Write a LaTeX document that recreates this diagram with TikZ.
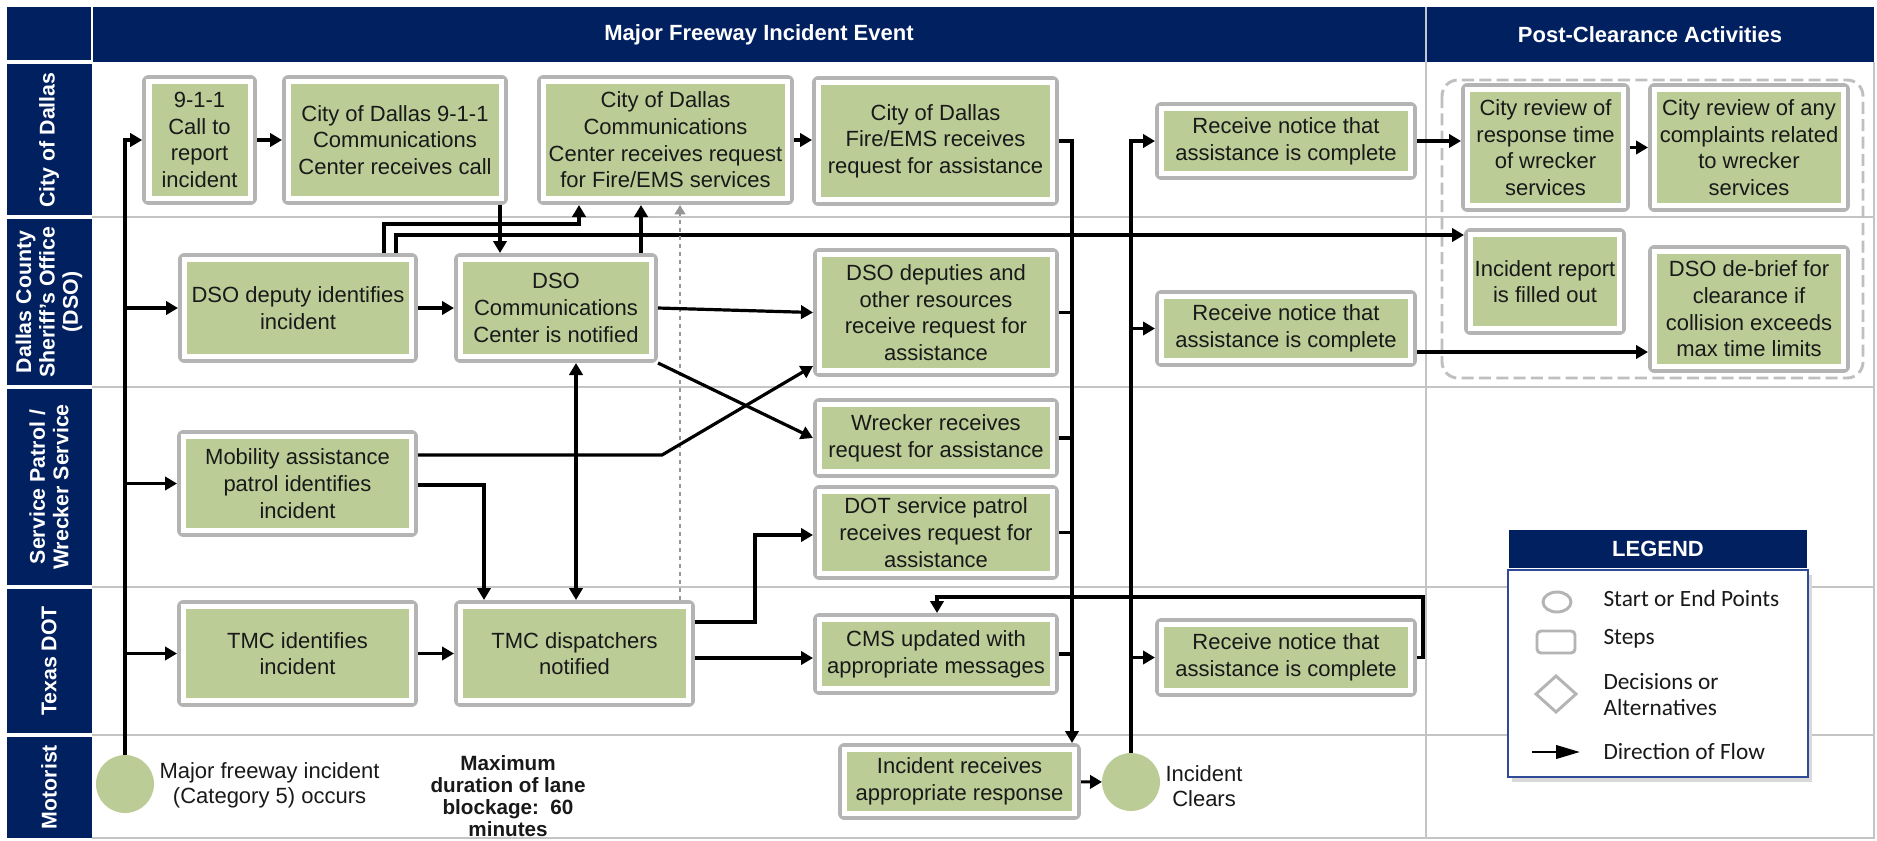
\documentclass[tikz,border=0pt]{standalone}
\usepackage{fontspec}
\setmainfont{Liberation Sans}
\newfontfamily\legendfont{Carlito}
\usetikzlibrary{arrows.meta}

\definecolor{navyband}{RGB}{0,32,96}
\definecolor{stepgreen}{RGB}{188,204,151}
\definecolor{boxgray}{RGB}{180,180,180}
\definecolor{lanegray}{RGB}{196,196,196}
\definecolor{dotgray}{RGB}{150,150,150}
\definecolor{legendblue}{RGB}{47,74,150}
\definecolor{textblack}{RGB}{25,25,25}

\tikzset{every picture/.style={line width=0.75pt}}
\tikzset{
  stepbox/.style={draw=white, line width=4pt, fill=stepgreen,
    preaction={draw=boxgray, line width=10pt, line join=round},
    outer sep=5pt, inner sep=0pt, align=center, text=textblack,
    font=\fontsize{16.5}{20}\selectfont},
  termnode/.style={circle, fill=stepgreen, minimum size=43.5pt, inner sep=0pt, outer sep=0pt},
  flowline/.style={draw=black, line width=2.4pt, -{Triangle[length=9pt,width=10pt]}},
  biflowline/.style={draw=black, line width=2.4pt, {Triangle[length=9pt,width=10pt]}-{Triangle[length=9pt,width=10pt]}},
  dotflowline/.style={draw=dotgray, line width=1.5pt, dash pattern=on 3pt off 3pt, -{Triangle[length=7pt,width=8pt]}},
  stubline/.style={draw=black, line width=2.4pt},
  lanelabel/.style={rotate=90, text=white, align=center, inner sep=0pt, font=\fontsize{16}{17.5}\selectfont\bfseries},
  headtext/.style={text=white, inner sep=0pt, font=\fontsize{16.5}{20}\selectfont\bfseries},
  plaintext/.style={text=textblack, align=center, inner sep=0pt, font=\fontsize{16.5}{18.5}\selectfont},
  legendtext/.style={anchor=west, text=textblack, align=left, inner sep=0pt, font=\legendfont\fontsize{17.5}{19.5}\selectfont},
  legendicon/.style={draw=boxgray, line width=2.2pt},
  groupline/.style={draw=boxgray!85, line width=2.2pt, dash pattern=on 9pt off 4pt, rounded corners=12pt},
}

\begin{document}
\begin{tikzpicture}[x=0.75pt,y=0.75pt,yscale=-1,xscale=1]
\useasboundingbox (0,0) rectangle (1877,840);

%Shape: Header band and lane column
\fill[navyband] (7,7) rectangle (1874,62);
\fill[navyband] (7,62) rectangle (92,838);
\draw[white, line width=2pt] (92,7) -- (92,62);
\draw[white!75!navyband, line width=1pt] (1426,7) -- (1426,62);
%Straight Lines: lane separators
\draw[white, line width=2.5pt] (7,62) -- (92,62);
\draw[white, line width=2.5pt] (7,217) -- (92,217);
\draw[white, line width=2.5pt] (7,387) -- (92,387);
\draw[white, line width=2.5pt] (7,587) -- (92,587);
\draw[white, line width=2.5pt] (7,735) -- (92,735);
\draw[lanegray, line width=2pt] (92,217) -- (1874,217);
\draw[lanegray, line width=2pt] (92,387) -- (1874,387);
\draw[lanegray, line width=2pt] (92,587) -- (1874,587);
\draw[lanegray, line width=2pt] (92,735) -- (1874,735);
\draw[lanegray, line width=1.2pt] (1426,62) -- (1426,838);
\draw[lanegray, line width=1.5pt] (1874,62) -- (1874,838) -- (92,838);

%Shape: Post-clearance group
\draw[groupline] (1442,80) rectangle (1863,378);

% Text Node: headers
\node[headtext] (hmain) at (759,35) {Major Freeway Incident Event};
\node[headtext] (hpost) at (1650,35) {Post-Clearance Activities};

% Text Node: lanes
\node[lanelabel] (lcity) at (49,140) {City of Dallas};
\node[lanelabel] (ldso) at (49,302) {Dallas County\\Sheriff's Office\\(DSO)};
\node[lanelabel] (lserv) at (49,487) {Service Patrol /\\Wrecker Service};
\node[lanelabel] (ltexas) at (49,661) {Texas DOT};
\node[lanelabel] (lmotor) at (49,787) {Motorist};

% Text Node: City of Dallas
\node[stepbox, minimum width=76pt, minimum height=87.5pt] (call911) at (199.5,140) {9-1-1\\Call to\\report\\incident};
\node[stepbox, minimum width=159.5pt, minimum height=87.5pt] (cdcall) at (395,140) {City of Dallas 9-1-1\\Communications\\Center receives call};
\node[stepbox, minimum width=182.75pt, minimum height=87.5pt] (cdreq) at (665.5,140) {City of Dallas\\Communications\\Center receives request\\for Fire/EMS services};
\node[stepbox, minimum width=175.25pt, minimum height=87.5pt] (fireems) at (935.5,141) {City of Dallas\\Fire/EMS receives\\request for assistance};
\node[stepbox, minimum width=186.5pt, minimum height=48.5pt] (cdnotice) at (1286,141) {Receive notice that\\assistance is complete};
\node[stepbox, minimum width=116.75pt, minimum height=86.75pt] (cityrev1) at (1545.5,147.5) {City review of\\response time\\of wrecker\\services};
\node[stepbox, minimum width=141.5pt, minimum height=86.75pt] (cityrev2) at (1749,147.5) {City review of any\\complaints related\\to wrecker\\services};

% Text Node: DSO
\node[stepbox, minimum width=170pt, minimum height=72.5pt] (dsodep) at (298,308) {DSO deputy identifies\\incident};
\node[stepbox, minimum width=143pt, minimum height=72.5pt] (dsocomm) at (556,308) {DSO\\Communications\\Center is notified};
\node[stepbox, minimum width=174.5pt, minimum height=86.75pt] (dsoreq) at (936,312.5) {DSO deputies and\\other resources\\receive request for\\assistance};
\node[stepbox, minimum width=186.5pt, minimum height=47.75pt] (dsonotice) at (1286,328.5) {Receive notice that\\assistance is complete};
\node[stepbox, minimum width=111.5pt, minimum height=70.25pt] (increp) at (1545,281.5) {Incident report\\is filled out};
\node[stepbox, minimum width=141.5pt, minimum height=86pt] (debrief) at (1749,309) {DSO de-brief for\\clearance if\\collision exceeds\\max time limits};

% Text Node: Service Patrol / Wrecker
\node[stepbox, minimum width=170.75pt, minimum height=70.25pt] (mobility) at (297.5,483.5) {Mobility assistance\\patrol identifies\\incident};
\node[stepbox, minimum width=174.5pt, minimum height=50pt] (wrecker) at (936,438) {Wrecker receives\\request for assistance};
\node[stepbox, minimum width=174.5pt, minimum height=61.25pt] (dotpatrol) at (936,532.5) {DOT service patrol\\receives request for\\assistance};

% Text Node: Texas DOT
\node[stepbox, minimum width=170.75pt, minimum height=70.25pt] (tmcid) at (297.5,653.5) {TMC identifies\\incident};
\node[stepbox, minimum width=170.75pt, minimum height=70.25pt] (tmcdisp) at (574.5,653.5) {TMC dispatchers\\notified};
\node[stepbox, minimum width=174.5pt, minimum height=51.5pt] (cms) at (936,654) {CMS updated with\\appropriate messages};
\node[stepbox, minimum width=186.5pt, minimum height=49.25pt] (dotnotice) at (1286,657.5) {Receive notice that\\assistance is complete};

% Text Node: Motorist
\node[termnode] (start) at (125,784) {};
\node[plaintext, anchor=west] (starttxt) at (159,785) {Major freeway incident\\(Category 5) occurs};
\node[plaintext, font=\fontsize{15.5}{16.3}\selectfont\bfseries] (maxdur) at (508,796) {Maximum\\duration of lane\\blockage:\ \ 60\\minutes};
\node[stepbox, minimum width=172.25pt, minimum height=47.75pt] (increspond) at (959.5,781.5) {Incident receives\\appropriate response};
\node[termnode] (endc) at (1131,782) {};
\node[plaintext, anchor=west] (endtxt) at (1165,786) {Incident\\Clears};

%Straight Lines: from the incident
\draw[flowline] (start.north) |- (call911.west);
\draw[flowline] (start.north |- dsodep.west) -- (dsodep.west);
\draw[flowline] (start.north |- mobility.west) -- (mobility.west);
\draw[flowline] (start.north |- tmcid.west) -- (tmcid.west);

%Straight Lines: City of Dallas
\draw[flowline] (call911) -- (cdcall);
\draw[flowline] (cdreq.east) -- (cdreq.east -| fireems.west);
\draw[flowline] (cdcall.south -| 500,0) -- (dsocomm.north -| 500,0);

%Straight Lines: DSO
\draw[flowline] (dsodep) -- (dsocomm);
\draw[flowline] (dsodep.north -| 384,0) |- (579,224) -- (cdreq.south -| 579,0);
\draw[flowline] (dsodep.north -| 396,0) |- (increp.west |- 0,235);
\draw[flowline] (dsocomm.north -| 641,0) -- (cdreq.south -| 641,0);
\draw[dotflowline] (tmcdisp.north -| 680,0) -- (cdreq.south -| 680,0);
\draw[flowline] (dsocomm.east) -- (dsoreq.west);
\draw[flowline] (dsocomm.south east) -- (wrecker.west);
\draw[biflowline] (dsocomm.south -| 576,0) -- (tmcdisp.north -| 576,0);

%Straight Lines: Service Patrol
\draw[flowline] (mobility.east |- 0,455) -- (662,455) -- (dsoreq.west |- 0,366);
\draw[flowline] (mobility.east |- 0,485) -| (tmcdisp.north -| 484,0);

%Straight Lines: Texas DOT
\draw[flowline] (tmcid) -- (tmcdisp);
\draw[flowline] (tmcdisp.east |- 0,622) -| (755,535) -- (dotpatrol.west |- 0,535);
\draw[flowline] (tmcdisp.east |- 0,658) -- (cms.west |- 0,658);

%Straight Lines: responses gather
\draw[flowline] (fireems.east) -| (increspond.north -| 1072,0);
\draw[stubline] (dsoreq.east) -- (dsoreq.east -| 1072,0);
\draw[stubline] (wrecker.east) -- (wrecker.east -| 1072,0);
\draw[stubline] (dotpatrol.east) -- (dotpatrol.east -| 1072,0);
\draw[stubline] (cms.east) -- (cms.east -| 1072,0);
\draw[flowline] (increspond) -- (endc);

%Straight Lines: after clearance
\draw[flowline] (endc.north) |- (cdnotice.west);
\draw[flowline] (endc.north |- dsonotice.west) -- (dsonotice.west);
\draw[flowline] (endc.north |- dotnotice.west) -- (dotnotice.west);
\draw[flowline] (cdnotice.east) -- (cdnotice.east -| cityrev1.west);
\draw[flowline] (cityrev1) -- (cityrev2);
\draw[flowline] (dsonotice.east |- 0,352) -- (debrief.west |- 0,352);
\draw[flowline] (dotnotice.east) -| (1423,597) -| (cms.north -| 937,0);

%Shape: Legend
\fill[black!15] (1512,575) rectangle (1812,782);
\fill[navyband] (1509,530) rectangle (1807,568);
\node[headtext] (legendhead) at (1658,549) {LEGEND};
\draw[legendblue, line width=1.2pt, fill=white] (1508,570) rectangle (1808,777);
\draw[legendicon] (1557,602) ellipse [x radius=14, y radius=10];
\draw[legendicon, rounded corners=3pt] (1537,631) rectangle (1575,653);
\draw[legendicon] (1556,676) -- (1576,694) -- (1556,712) -- (1536,694) -- cycle;
\draw[draw=black, line width=2.2pt, -{Triangle[length=18pt,width=10pt]}] (1532,752) -- (1580,752);
\node[legendtext] (lgstart) at (1603,598) {Start or End Points};
\node[legendtext] (lgsteps) at (1603,639) {Steps};
\node[legendtext] (lgdec) at (1603,695) {Decisions or\\Alternatives};
\node[legendtext] (lgflow) at (1603,751) {Direction of Flow};

\end{tikzpicture}
\end{document}
